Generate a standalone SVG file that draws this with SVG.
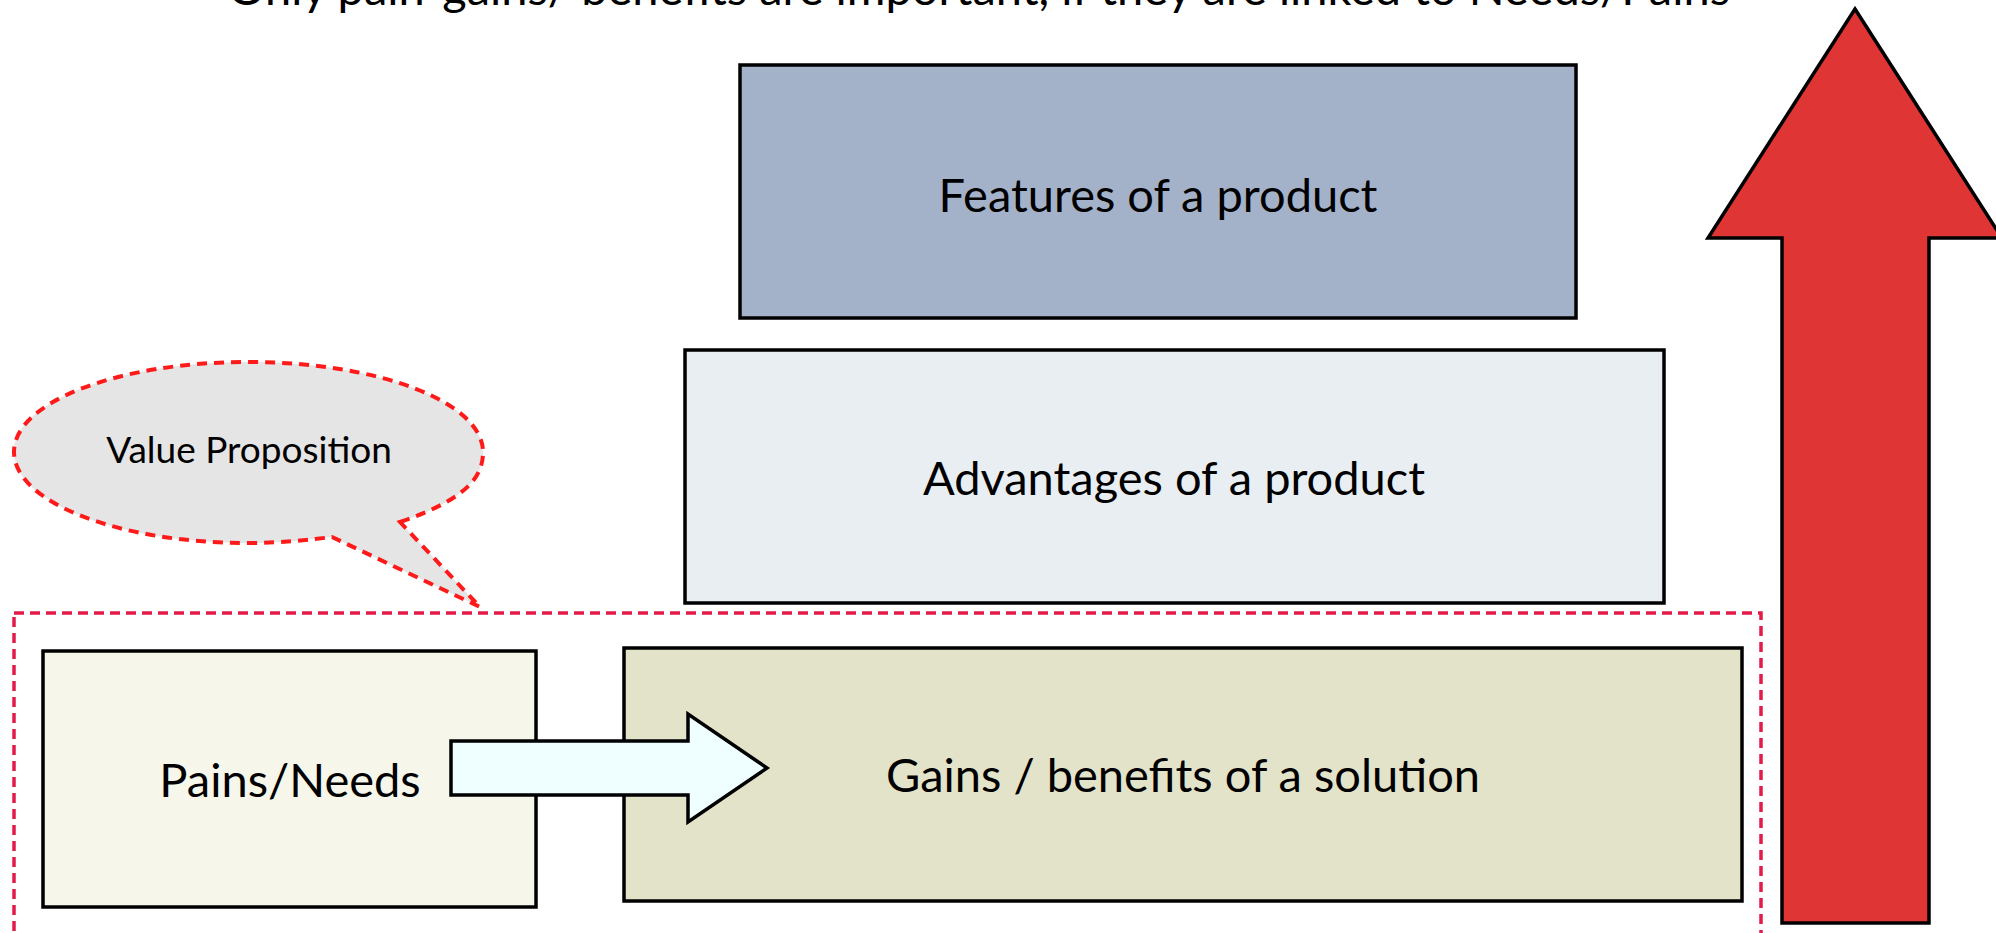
<svg xmlns="http://www.w3.org/2000/svg" width="1996" height="933" viewBox="0 0 1996 933">
<style>
.box{stroke:#000;stroke-width:3.5;}
.lbl{font-family:Lato,"Open Sans","Liberation Sans",sans-serif;font-size:47px;fill:#000;text-anchor:middle;}
.dash{fill:none;stroke:#e31b4a;stroke-width:3.5;stroke-dasharray:10 6;}
</style>
<rect width="1996" height="933" fill="#ffffff"/>
<text class="lbl" x="979" y="5">Only pain-gains/ benefits are important, if they are linked to Needs/Pains</text>

<g id="features">
<rect class="box" x="740" y="65" width="836" height="253" fill="#a4b2c9"/>
<text class="lbl" x="1158" y="212">Features of a product</text>
</g>
<g id="advantages">
<rect class="box" x="685" y="350" width="979" height="253" fill="#e9eef2"/>
<text class="lbl" x="1174" y="495">Advantages of a product</text>
</g>
<g id="value-group">
<rect class="dash" x="14" y="613" width="1747" height="340"/>
</g>
<g id="pains">
<rect class="box" x="43" y="651" width="493" height="256" fill="#f6f6eb"/>
<text class="lbl" x="290" y="797">Pains/Needs</text>
</g>
<g id="gains">
<rect class="box" x="624" y="648" width="1118" height="253" fill="#e3e3c9"/>
<text class="lbl" x="1183" y="792">Gains / benefits of a solution</text>
</g>
<g id="connectors">
<polygon class="box" points="451,741 688,741 688,714 767,768 688,822 688,795 451,795" fill="#effefe"/>
</g>
<g id="callout">
<path d="M400,522 C470,498 483,475 483,452 C483,402 378,362 248,362 C118,362 14,402 14,452 C14,502 118,543 248,543 C280,543 308,540 332,537 L480,607 Z" fill="#e5e5e5" stroke="#ff1a1a" stroke-width="4" stroke-dasharray="10 7"/>
<text x="249" y="463" font-family="Lato,'Open Sans',sans-serif" font-size="37" text-anchor="middle" fill="#000">Value Proposition</text>
</g>
<g id="up-arrow">
<polygon class="box" points="1855,9 2002,238 1929,238 1929,923 1782,923 1782,238 1708,238" fill="#e03535"/>
</g>
</svg>
